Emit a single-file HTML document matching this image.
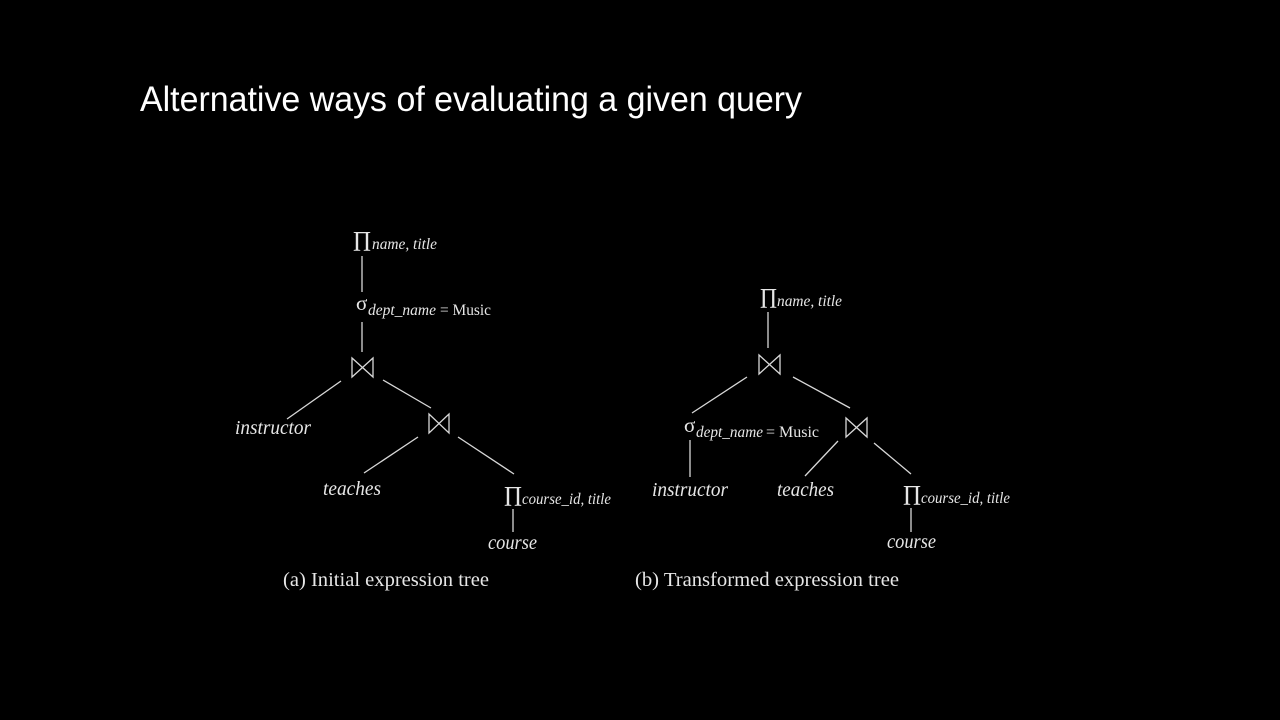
<!DOCTYPE html>
<html><head><meta charset="utf-8"><style>
html,body{margin:0;padding:0;background:#000;width:1280px;height:720px;overflow:hidden}
svg{display:block}
.s{font-family:"Liberation Serif",serif;fill:#e6e6e6}
.i{font-style:italic}
line,path{stroke:#d8d8d8;stroke-width:1.3;fill:none}
</style></head><body>
<svg width="1280" height="720" viewBox="0 0 1280 720">
<text x="140" y="111" font-family="Liberation Sans, sans-serif" font-size="35" fill="#fff" textLength="662" lengthAdjust="spacingAndGlyphs">Alternative ways of evaluating a given query</text>

<!-- Left tree -->
<text class="s" x="353" y="251" font-size="28" textLength="18" lengthAdjust="spacingAndGlyphs">Π</text>
<text class="s i" x="372" y="249" font-size="15.5" textLength="65" lengthAdjust="spacingAndGlyphs">name, title</text>
<line x1="362" y1="256" x2="362" y2="292"/>
<text class="s" x="356" y="310" font-size="21">σ</text>
<text class="s i" x="368" y="315" font-size="15.5" textLength="68" lengthAdjust="spacingAndGlyphs">dept_name</text>
<text class="s" x="440" y="315" font-size="16" textLength="51" lengthAdjust="spacingAndGlyphs">= Music</text>
<line x1="362" y1="322" x2="362" y2="352"/>
<path d="M352 358 L352 377 L373 358 L373 377 Z"/>
<line x1="341" y1="381" x2="287" y2="419"/>
<line x1="383" y1="380" x2="431" y2="408"/>
<text class="s i" x="235" y="434" font-size="20.5" textLength="76" lengthAdjust="spacingAndGlyphs">instructor</text>
<path d="M429 414 L429 433 L449 414 L449 433 Z"/>
<line x1="418" y1="437" x2="364" y2="473"/>
<line x1="458" y1="437" x2="514" y2="474"/>
<text class="s i" x="323" y="495" font-size="20.5" textLength="58" lengthAdjust="spacingAndGlyphs">teaches</text>
<text class="s" x="504" y="506" font-size="28" textLength="18" lengthAdjust="spacingAndGlyphs">Π</text>
<text class="s i" x="522" y="504" font-size="15.5" textLength="89" lengthAdjust="spacingAndGlyphs">course_id, title</text>
<line x1="513" y1="509" x2="513" y2="532"/>
<text class="s i" x="488" y="549" font-size="20.5" textLength="49" lengthAdjust="spacingAndGlyphs">course</text>
<text class="s" x="283" y="586" font-size="20" textLength="206" lengthAdjust="spacingAndGlyphs">(a) Initial expression tree</text>

<!-- Right tree -->
<text class="s" x="760" y="308" font-size="28" textLength="17" lengthAdjust="spacingAndGlyphs">Π</text>
<text class="s i" x="777" y="306" font-size="15.5" textLength="65" lengthAdjust="spacingAndGlyphs">name, title</text>
<line x1="768" y1="312" x2="768" y2="348"/>
<path d="M759 355 L759 374 L780 355 L780 374 Z"/>
<line x1="747" y1="377" x2="692" y2="413"/>
<line x1="793" y1="377" x2="850" y2="408"/>
<text class="s" x="684" y="432" font-size="21">σ</text>
<text class="s i" x="696" y="437" font-size="15.5" textLength="67" lengthAdjust="spacingAndGlyphs">dept_name</text>
<text class="s" x="766" y="437" font-size="16" textLength="53" lengthAdjust="spacingAndGlyphs">= Music</text>
<line x1="690" y1="440" x2="690" y2="477"/>
<text class="s i" x="652" y="496" font-size="20.5" textLength="76" lengthAdjust="spacingAndGlyphs">instructor</text>
<path d="M846 418 L846 437 L867 418 L867 437 Z"/>
<line x1="838" y1="441" x2="805" y2="476"/>
<line x1="874" y1="443" x2="911" y2="474"/>
<text class="s i" x="777" y="496" font-size="20.5" textLength="57" lengthAdjust="spacingAndGlyphs">teaches</text>
<text class="s" x="903" y="505" font-size="28" textLength="18" lengthAdjust="spacingAndGlyphs">Π</text>
<text class="s i" x="921" y="503" font-size="15.5" textLength="89" lengthAdjust="spacingAndGlyphs">course_id, title</text>
<line x1="911" y1="508" x2="911" y2="532"/>
<text class="s i" x="887" y="548" font-size="20.5" textLength="49" lengthAdjust="spacingAndGlyphs">course</text>
<text class="s" x="635" y="586" font-size="20" textLength="264" lengthAdjust="spacingAndGlyphs">(b) Transformed expression tree</text>
</svg>
</body></html>
